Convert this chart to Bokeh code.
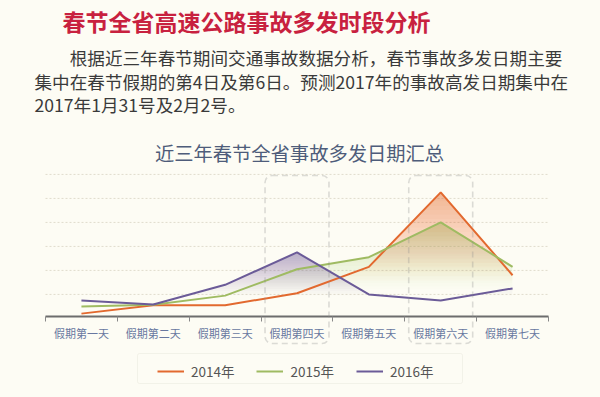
import numpy as np
from bokeh.plotting import figure
from bokeh.models import (FixedTicker, Legend, LegendItem, BoxAnnotation, Range1d, Label)
from bokeh.embed import file_html
from bokeh.resources import INLINE

# ---- data ----
days = ["假期第一天", "假期第二天", "假期第三天", "假期第四天", "假期第五天", "假期第六天", "假期第七天"]
y2014 = [0.2, 0.55, 0.55, 1.05, 2.15, 5.25, 1.8]
y2015 = [0.5, 0.57, 0.95, 2.05, 2.55, 4.0, 2.15]
y2016 = [0.75, 0.58, 1.4, 2.75, 1.0, 0.75, 1.25]
series_names = ["2014年", "2015年", "2016年"]
highlight_days = ["假期第四天", "假期第六天"]
grid_values = [1, 2, 3, 4, 5, 6]

main_title = "春节全省高速公路事故多发时段分析"
para_lines = ["\u3000\u3000根据近三年春节期间交通事故数据分析，春节事故多发日期主要",
              "集中在春节假期的第4日及第6日。预测2017年的事故高发日期集中在",
              "2017年1月31号及2月2号。"]
chart_title = "近三年春节全省事故多发日期汇总"

# ---- layout (page pixels) ----
W, H = 600, 397
AX_LEFT, AX_RIGHT, AX_Y = 45, 548, 316
PX_PER_UNIT = 24.0
Y0 = 0.08                      # value at the axis line
n_days = len(days)
UX = (AX_RIGHT - AX_LEFT) / n_days
x_start = -0.5 - AX_LEFT / UX
x_end = n_days - 0.5 + (W - AX_RIGHT) / UX
y_start = Y0 - (H - AX_Y) / PX_PER_UNIT
y_end = Y0 + AX_Y / PX_PER_UNIT


def ypx(py):
    """page pixel row -> data y"""
    return Y0 + (AX_Y - py) / PX_PER_UNIT


def xpx(px):
    """page pixel column -> data x"""
    return -0.5 + (px - AX_LEFT) / UX


# ---- style ----
BG = "#fdfcf4"
FONT = "Noto Sans CJK SC"
line_colors = ["#e2692f", "#9fbb62", "#6b5b98"]
fill_colors = ["#ee7a3a", "#a5b552", "#6b5b98"]
fill_top_alpha = [0.48, 0.38, 0.42]
fill_lo_frac = [0.3, 0.3, 0.35]

xs = list(range(n_days))

p = figure(width=W, height=H, x_range=Range1d(x_start, x_end), y_range=Range1d(y_start, y_end),
           output_backend="svg", toolbar_location=None, title=None,
           min_border_left=0, min_border_right=0, min_border_top=0, min_border_bottom=0,
           background_fill_color=BG, border_fill_color=BG, outline_line_color=None)

# dotted horizontal grid lines over the plotting band only
p.segment(x0=[-0.5] * len(grid_values), x1=[n_days - 0.5] * len(grid_values),
          y0=grid_values, y1=grid_values, line_color="#e0dccd", line_dash="2 2", line_width=1)


def gradient_layers(xv, vals, n, lo_frac, top_alpha):
    xv = np.asarray(xv, float)
    vals = np.asarray(vals, float)
    top = vals.max()
    out = []
    prev_T = 0.0
    for i in range(n):
        h = top * (lo_frac + (1 - lo_frac) * i / n)
        T = top_alpha * (i + 1) / n
        a = 1 - (1 - T) / (1 - prev_T)
        prev_T = T
        px = list(xv)
        for j in range(len(xv) - 1):
            u, v = vals[j], vals[j + 1]
            if (u - h) * (v - h) < 0:
                px.append(xv[j] + (h - u) / (v - u) * (xv[j + 1] - xv[j]))
        px = np.array(sorted(px))
        ln = np.interp(px, xv, vals)
        out.append((px, np.full_like(px, h), np.maximum(ln, h), a))
    return out


all_series = [y2014, y2015, y2016]
for vals, fc, ta, lf in zip(all_series, fill_colors, fill_top_alpha, fill_lo_frac):
    for px, y1, y2, a in gradient_layers(xs, vals, 20, lf, ta):
        p.varea(x=px, y1=y1, y2=y2, fill_color=fc, fill_alpha=a)

# highlight boxes (extend down around the axis labels)
for d in highlight_days:
    c = days.index(d)
    p.add_layout(BoxAnnotation(left=c - 0.445, right=c + 0.445, top=ypx(175), bottom=ypx(343),
                               fill_alpha=0, line_color="#8e8e8e", line_dash="6 4",
                               line_width=1.6, border_radius=7))

renderers = []
for vals, lc in zip(all_series, line_colors):
    r = p.line(xs, vals, line_color=lc, line_width=2)
    renderers.append(r)

# axes
p.yaxis.visible = False
p.xgrid.visible = False
p.ygrid.visible = False

xa = p.xaxis[0]
xa.fixed_location = Y0
xa.bounds = (-0.5, n_days - 0.5)
xa.ticker = FixedTicker(ticks=xs, minor_ticks=[i - 0.5 for i in range(n_days + 1)])
xa.major_label_overrides = {i: d for i, d in enumerate(days)}
xa.major_tick_line_color = None
xa.major_tick_out = 0
xa.major_tick_in = 0
xa.minor_tick_line_color = "#888888"
xa.minor_tick_out = 5
xa.minor_tick_in = 0
xa.axis_line_color = "#6d6d6d"
xa.axis_line_width = 2
xa.major_label_text_font = FONT
xa.major_label_text_font_size = "11px"
xa.major_label_text_color = "#6878a0"
xa.major_label_standoff = 3

# legend frame + legend below the axis labels
p.add_layout(BoxAnnotation(left=xpx(137), right=xpx(462), top=ypx(353), bottom=ypx(383),
                           fill_color=BG, fill_alpha=1, line_color="#dcd9cd", line_width=1,
                           border_radius=2))
legend = Legend(items=[LegendItem(label=n, renderers=[r]) for n, r in zip(series_names, renderers)],
                orientation="horizontal", location=(157, H - 381),
                label_text_font=FONT, label_text_font_size="13.5px", label_text_color="#555555",
                glyph_width=27, glyph_height=16, label_height=16, label_standoff=7, spacing=22,
                padding=6, margin=0, border_line_color=None,
                background_fill_alpha=0)
p.add_layout(legend)

# header texts
p.add_layout(Label(x=62, y=ypx(20), x_units="screen", text=main_title,
                   text_font=FONT, text_font_size="23px", text_font_style="bold",
                   text_color="#c8213f", text_baseline="middle", text_align="left"))
for ln, py in zip(para_lines, [57, 81, 104]):
    p.add_layout(Label(x=34, y=ypx(py), x_units="screen", text=ln,
                       text_font=FONT, text_font_size="17.6px", text_color="#3a3a3a",
                       text_baseline="middle", text_align="left"))
p.add_layout(Label(x=299, y=ypx(152), x_units="screen", text=chart_title,
                   text_font=FONT, text_font_size="19.3px", text_color="#4e5c7a",
                   text_baseline="middle", text_align="center"))

html = file_html(p, INLINE)
html = html.replace("</head>", "<style>html, body { background-color: %s !important; }</style></head>" % BG, 1)
open("out.html", "w").write(html)
